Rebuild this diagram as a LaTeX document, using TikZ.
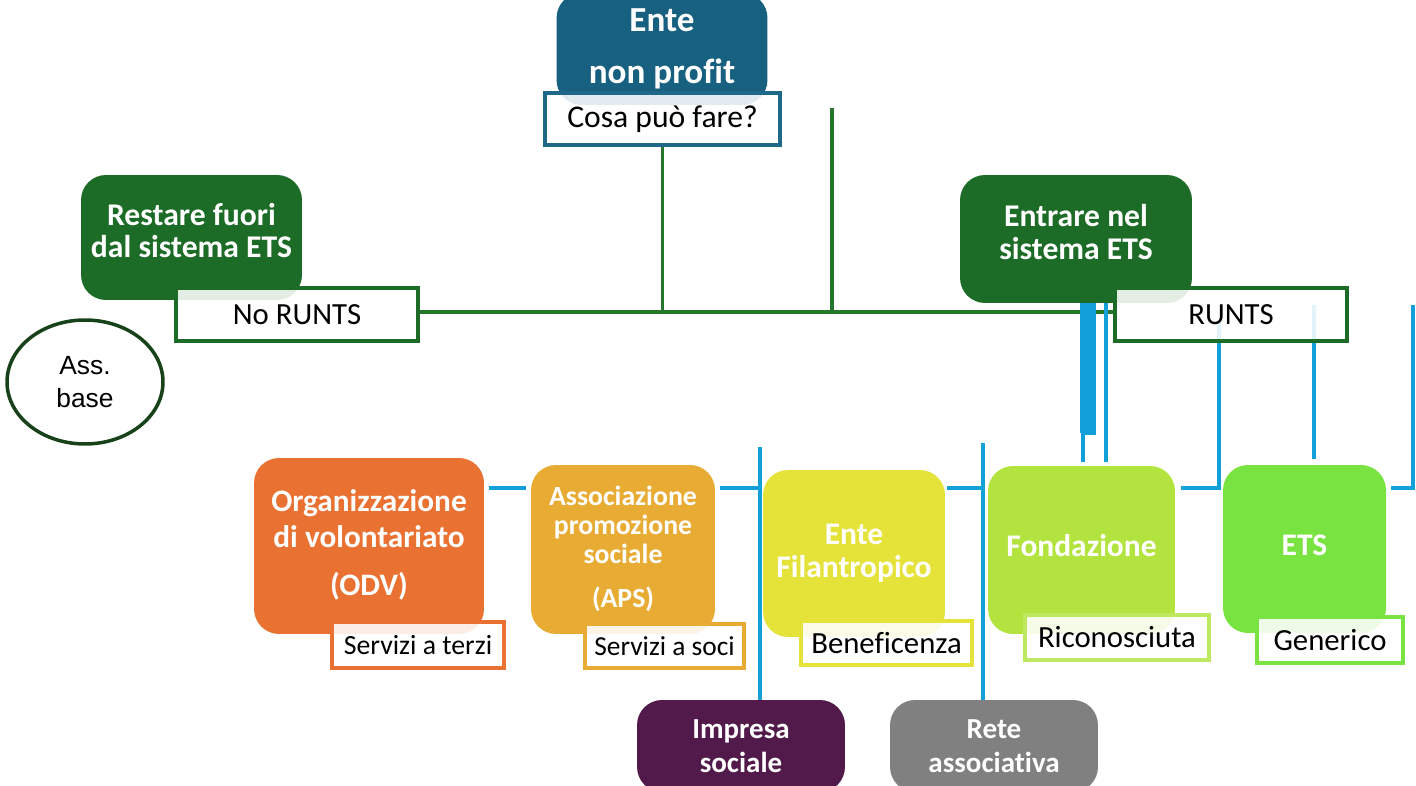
\documentclass[tikz,border=0pt]{standalone}
\usepackage{fontspec}
\setmainfont[Ligatures=NoCommon]{Carlito}
\newfontfamily\assfont{Liberation Sans}
\usetikzlibrary{shapes.geometric}

\definecolor{enteblue}{RGB}{23,96,128}
\definecolor{cosablue}{RGB}{30,104,138}
\definecolor{etsgreen}{RGB}{28,107,39}
\definecolor{linegreen}{RGB}{38,118,46}
\definecolor{assgreen}{RGB}{24,66,26}
\definecolor{lineblue}{RGB}{19,160,216}
\definecolor{odvorange}{RGB}{233,113,50}
\definecolor{apsgold}{RGB}{232,172,53}
\definecolor{filyellow}{RGB}{229,227,58}
\definecolor{fondlime}{RGB}{178,227,62}
\definecolor{fondlimetag}{RGB}{190,232,95}
\definecolor{etslight}{RGB}{121,227,66}
\definecolor{imppurple}{RGB}{82,26,75}
\definecolor{retegrey}{RGB}{128,128,128}

\pgfdeclarelayer{bg}
\pgfsetlayers{bg,main}

% empty last line, lifts the text inside a box
\newcommand\lift[1]{\\[#1]\mbox{}}

\tikzset{
  mainbox/.style={rounded corners=0.5cm, inner sep=2pt, text=white, align=center},
  tagbox/.style={draw, line width=2.1pt, fill=white, fill opacity=0.88,
    text opacity=1, inner sep=2pt, text=black},
  gline/.style={draw=linegreen, line width=2.2pt},
  bline/.style={draw=lineblue, line width=2.2pt},
}

\begin{document}
\begin{tikzpicture}[x=0.02cm,y=-0.02cm]
\useasboundingbox (0,0) rectangle (1416,786);

% top
\node[mainbox, fill=enteblue, minimum width=4.22cm, minimum height=2.24cm,
  font=\bfseries\fontsize{20}{30}\selectfont] (ente) at (662,49) {Ente\\non profit};
\node[tagbox, draw=cosablue, line width=2.4pt, minimum width=4.70cm, minimum height=1.04cm,
  font=\fontsize{18}{19}\selectfont] (cosa) at (662.5,119) {Cosa può fare?};

% the two ways
\node[mainbox, fill=etsgreen, minimum width=4.42cm, minimum height=2.5cm,
  font=\bfseries\fontsize{18}{18.7}\selectfont] (fuori) at (191.5,237.5) {Restare fuori\\dal sistema ETS\lift{-10.7pt}};
\node[tagbox, draw=etsgreen, minimum width=4.84cm, minimum height=1.06cm,
  font=\fontsize{17.5}{19}\selectfont] (norunts) at (297,314.5) {No RUNTS};
\node[mainbox, fill=etsgreen, minimum width=4.64cm, minimum height=2.56cm,
  font=\bfseries\fontsize{18}{18.7}\selectfont] (dentro) at (1076,239) {Entrare nel\\sistema ETS\lift{-10.7pt}};
\node[tagbox, draw=etsgreen, minimum width=4.64cm, minimum height=1.06cm,
  font=\fontsize{17.5}{19}\selectfont] (runts) at (1231,314.5) {RUNTS};
\node[ellipse, draw=assgreen, line width=2pt, minimum width=3.12cm, minimum height=2.48cm,
  inner sep=0pt, align=center, font=\assfont\fontsize{15}{18.7}\selectfont] (assbase) at (85,382) {Ass.\\base};

% kinds of ETS
\node[mainbox, fill=odvorange, minimum width=4.6cm, minimum height=3.52cm,
  font=\bfseries\fontsize{17.8}{20.4}\selectfont] (odv) at (369,546) {Organizzazione\\di volontariato\\[7pt](ODV)\lift{-16.5pt}};
\node[tagbox, draw=odvorange, minimum width=3.44cm, minimum height=0.92cm,
  font=\fontsize{15.8}{17}\selectfont] (odvtag) at (418,645) {Servizi a terzi};
\node[mainbox, fill=apsgold, minimum width=3.68cm, minimum height=3.38cm,
  font=\bfseries\fontsize{15.8}{16.7}\selectfont] (aps) at (623,549.5) {Associazione\\promozione\\sociale\\[8pt](APS)\lift{-13.3pt}};
\node[tagbox, draw=apsgold, minimum width=3.18cm, minimum height=0.88cm,
  font=\fontsize{15.6}{17}\selectfont] (apstag) at (664.5,646) {Servizi a soci};
\node[mainbox, fill=filyellow, minimum width=3.64cm, minimum height=3.34cm,
  font=\bfseries\fontsize{17.9}{18.7}\selectfont] (fil) at (854,553.5) {Ente\\Filantropico\lift{-16pt}};
\node[tagbox, draw=filyellow, minimum width=3.42cm, minimum height=0.88cm,
  font=\fontsize{17.5}{19}\selectfont] (filtag) at (886.5,643) {Beneficenza};
\node[mainbox, fill=fondlime, minimum width=3.74cm, minimum height=3.36cm,
  font=\bfseries\fontsize{17.9}{18.7}\selectfont] (fond) at (1081.5,550) {Fondazione\lift{-13pt}};
\node[tagbox, draw=fondlimetag, minimum width=3.68cm, minimum height=0.9cm,
  font=\fontsize{17.5}{19}\selectfont] (fondtag) at (1117,637.5) {Riconosciuta};
\node[mainbox, fill=etslight, minimum width=3.26cm, minimum height=3.36cm,
  font=\bfseries\fontsize{17.9}{18.7}\selectfont] (ets) at (1304.5,549) {ETS\lift{-14pt}};
\node[tagbox, draw=etslight, minimum width=2.92cm, minimum height=0.92cm,
  font=\fontsize{17.5}{19}\selectfont] (etstag) at (1330,640) {Generico};
\node[mainbox, fill=imppurple, minimum width=4.16cm, minimum height=1.84cm,
  font=\bfseries\fontsize{16.5}{19.3}\selectfont] (imp) at (741,746) {Impresa\\sociale};
\node[mainbox, fill=retegrey, minimum width=4.16cm, minimum height=1.84cm,
  font=\bfseries\fontsize{16.5}{19.3}\selectfont] (rete) at (994,746) {Rete\\associativa};

% rails
\coordinate (hub) at (0,312);
\coordinate (trunk) at (832,108);
\coordinate (row) at (0,488);
\coordinate (railA) at (760,447);
\coordinate (railB) at (983,443);
\coordinate (barbot) at (1088,433);
\coordinate (fondin) at (1106,462);
\coordinate (railC) at (1219,323);
\coordinate (railD) at (1314,305);
\coordinate (railE) at (1413,305);

\begin{pgfonlayer}{bg}
% green tree
\draw[gline] (cosa) -- (cosa |- hub);
\draw[gline] (trunk) -- (trunk |- hub);
\draw[gline] (norunts.east |- hub) -- (runts.west |- hub);
% blue tree
\draw[bline, shorten <=2.5pt, shorten >=2.5pt] (odv.east |- row) -- (aps.west |- row);
\draw[bline, shorten <=2.5pt] (aps.east |- row) -- (railA |- row);
\draw[bline] (railA) -- (railA |- imp.north);
\draw[bline, shorten <=1pt] (fil.east |- row) -- (railB |- row);
\draw[bline] (railB) -- (railB |- rete.north);
\draw[draw=lineblue, line width=9pt] (barbot |- dentro.south) -- (barbot);
\draw[bline] (barbot) ++(8,0) -- ++(-13,0) -- ++(0,29);
\draw[bline] (fondin |- dentro.south) -- (fondin);
\draw[bline, shorten <=3pt] (fond.east |- row) -- (railC |- row) -- (railC);
\draw[bline, shorten >=3pt] (railD) -- (railD |- ets.north);
\draw[bline, shorten >=2.5pt] (railE) -- (railE |- row) -- (ets.east |- row);
\end{pgfonlayer}
\end{tikzpicture}
\end{document}
